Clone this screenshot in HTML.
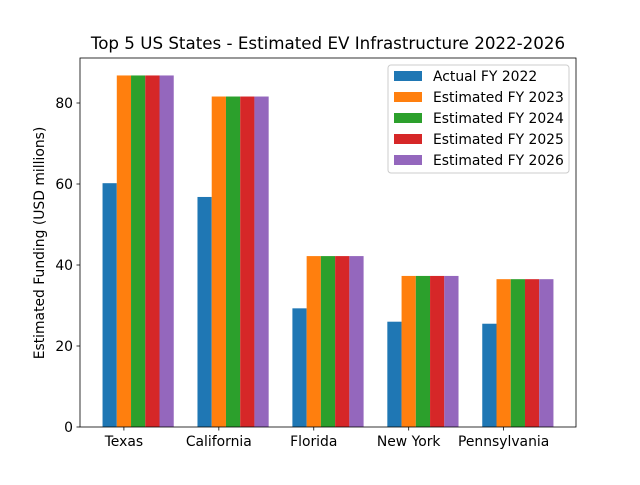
<!DOCTYPE html>
<html><head><meta charset="utf-8"><style>
body{margin:0;background:#fff;font-family:"Liberation Sans","DejaVu Sans",sans-serif}
text{font-family:"DejaVu Sans","Liberation Sans",sans-serif}
</style></head><body>
<svg id="chart" width="640" height="480" xmlns="http://www.w3.org/2000/svg">
<rect width="640" height="480" fill="#fff"/>
<text x="328" y="49" font-size="16.7" text-anchor="middle">Top 5 US States - Estimated EV Infrastructure 2022-2026</text>
<g id="bars"></g>
<g id="axes"></g>
<text transform="translate(44,243) rotate(-90)" font-size="13.9" text-anchor="middle">Estimated Funding (USD millions)</text>
<g id="legend"></g>
</svg>
<script>
const categories=["Texas","California","Florida","New York","Pennsylvania"];
const seriesNames=["Actual FY 2022","Estimated FY 2023","Estimated FY 2024","Estimated FY 2025","Estimated FY 2026"];
const fy2022=[60.2,56.8,29.3,26.0,25.5];
const fy2023=[86.8,81.6,42.2,37.3,36.5];
const fy2024=[86.8,81.6,42.2,37.3,36.5];
const fy2025=[86.8,81.6,42.2,37.3,36.5];
const fy2026=[86.8,81.6,42.2,37.3,36.5];
const yTicks=[0,20,40,60,80];
const colors=["#1f77b4","#ff7f0e","#2ca02c","#d62728","#9467bd"];
const series=[fy2022,fy2023,fy2024,fy2025,fy2026];
const NS="http://www.w3.org/2000/svg";
const L=80,R=576,T=58,B=427;
const xmin=-0.6125,xmax=categories.length-1+0.6125;
const yScale=4.05;
const sx=v=>L+(v-xmin)/(xmax-xmin)*(R-L);
const sy=v=>B-v*yScale;
function mk(tag,attrs,parent){const e=document.createElementNS(NS,tag);for(const k in attrs)e.setAttribute(k,attrs[k]);parent.appendChild(e);return e;}
const bars=document.getElementById('bars'),axes=document.getElementById('axes'),leg=document.getElementById('legend');
const w=0.15;
series.forEach((s,si)=>{s.forEach((v,ci)=>{
 const x0=ci+(si-2)*w-w/2;
 const r=mk('rect',{x:sx(x0),y:sy(v),width:sx(x0+w)-sx(x0),height:B-sy(v),fill:colors[si]},bars);
 
 
});});
const fr=mk('rect',{x:L,y:T,width:R-L,height:B-T,fill:'none',stroke:'#000','stroke-width':0.8},axes);


yTicks.forEach(t=>{
 mk('line',{x1:L-3.5,x2:L,y1:sy(t),y2:sy(t),stroke:'#000','stroke-width':0.8},axes);
 const tx=mk('text',{x:L-7,y:sy(t)+5,'font-size':13.9,'text-anchor':'end'},axes);tx.textContent=t;
 
 
});
categories.forEach((c,i)=>{
 const xt=sx(i-w);
 mk('line',{x1:xt,x2:xt,y1:B,y2:B+3.5,stroke:'#000','stroke-width':0.8},axes);
 const tx=mk('text',{x:xt,y:B+19,'font-size':13.9,'text-anchor':'middle'},axes);tx.textContent=c;
 
 
});
const lb=mk('rect',{x:388,y:65,width:181,height:108,fill:'#fff','fill-opacity':0.8,stroke:'#ccc',rx:3},leg);


seriesNames.forEach((n,i)=>{
 const y=76+i*21;
 mk('rect',{x:394,y:y-5,width:28,height:10,fill:colors[i]},leg);
 const tx=mk('text',{x:433,y:y+5,'font-size':13.9},leg);tx.textContent=n;
 
 
});
</script>
</body></html>
